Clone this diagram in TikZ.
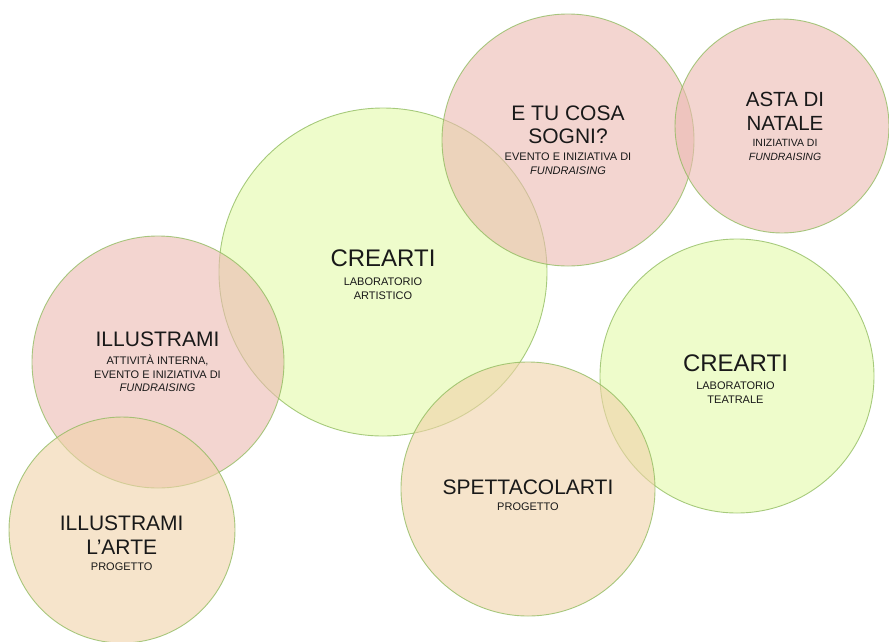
\documentclass[tikz,border=0pt]{standalone}
\usepackage{fontspec}
\setmainfont{Liberation Sans}
\definecolor{pinkF}{RGB}{235,185,177}
\definecolor{greenF}{RGB}{227,250,168}
\definecolor{tanF}{RGB}{240,210,168}
\definecolor{bubline}{RGB}{140,185,90}
\definecolor{ink}{RGB}{25,25,25}
\begin{document}
\begin{tikzpicture}[x=1pt,y=-1pt,
  bubble/.style={circle, draw=bubline, line width=0.9pt, fill opacity=0.6, draw opacity=0.75, inner sep=0pt, minimum size=#1},
  title/.style={anchor=base, align=center, inner sep=0pt, text=ink, font=\fontsize{21}{23.3}\selectfont},
  bigtitle/.style={title, font=\fontsize{24}{24}\selectfont},
  sub/.style={anchor=base, align=center, inner sep=0pt, text=ink, font=\fontsize{11}{13.8}\selectfont}
]
\useasboundingbox (0,0) rectangle (889,641);
% circles
\node[bubble=328pt, fill=greenF] (cart) at (383,272) {};
\node[bubble=274pt, fill=greenF] (cteat) at (737,376) {};
\node[bubble=252pt, fill=pinkF] (sogni) at (568,140) {};
\node[bubble=214pt, fill=pinkF] (asta) at (782,126) {};
\node[bubble=252pt, fill=pinkF] (illu) at (158,362) {};
\node[bubble=226pt, fill=tanF] (illarte) at (122,530) {};
\node[bubble=254pt, fill=tanF] (spett) at (528,489) {};
% texts (anchor = baseline of the last line)
\node[bigtitle] (t1) at (383,266.7) {CREARTI};
\node[sub, font=\fontsize{11}{13.3}\selectfont] (s1) at (383,299) {LABORATORIO\\ARTISTICO};
\node[title, font=\fontsize{21}{22.6}\selectfont] (t2) at (568,143.3) {E TU COSA\\SOGNI?};
\node[sub, font=\fontsize{11}{14.3}\selectfont] (s2) at (568,174.3) {EVENTO E INIZIATIVA DI\\\textit{FUNDRAISING}};
\node[title, font=\fontsize{20.5}{23.3}\selectfont] (t3) at (785,130) {ASTA DI\\NATALE};
\node[sub, font=\fontsize{10.5}{14}\selectfont] (s3) at (785,160.7) {INIZIATIVA DI\\\textit{FUNDRAISING}};
\node[title] (t4) at (157.5,346.7) {ILLUSTRAMI};
\node[sub, font=\fontsize{11}{13.7}\selectfont] (s4) at (157.5,391.7) {ATTIVITÀ INTERNA,\\EVENTO E INIZIATIVA DI\\\textit{FUNDRAISING}};
\node[title, font=\fontsize{21}{24}\selectfont] (t5) at (121.7,554) {ILLUSTRAMI\\L’ARTE};
\node[sub] (s5) at (121.7,570) {PROGETTO};
\node[title] (t6) at (528,494) {SPETTACOLARTI};
\node[sub] (s6) at (528,510) {PROGETTO};
\node[bigtitle] (t7) at (735.5,371.7) {CREARTI};
\node[sub, font=\fontsize{11}{14}\selectfont] (s7) at (735.5,403.3) {LABORATORIO\\TEATRALE};
\end{tikzpicture}
\end{document}
